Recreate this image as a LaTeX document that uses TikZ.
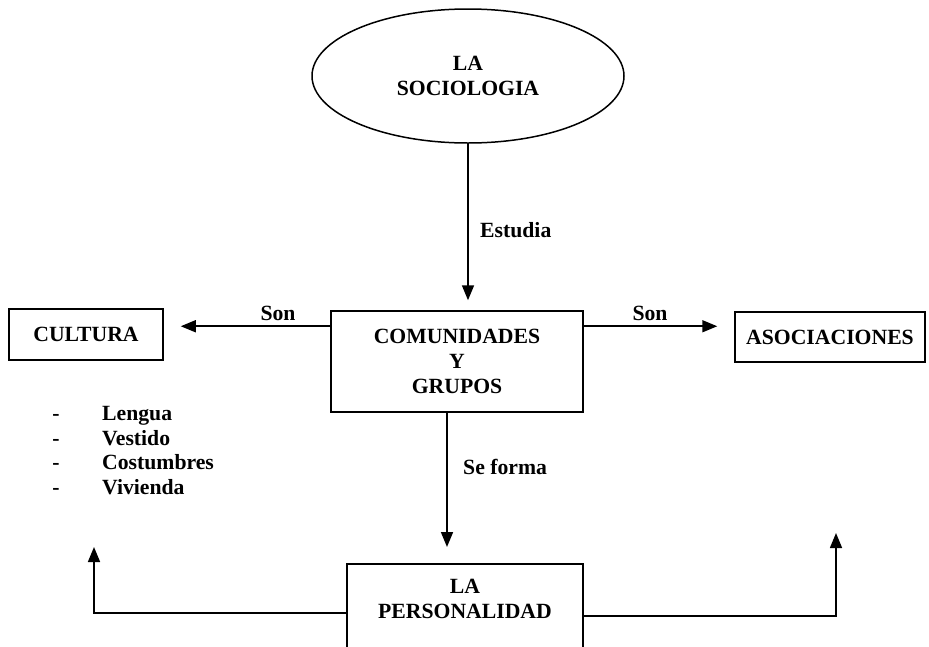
\documentclass[tikz,border=0pt]{standalone}
\usepackage{fontspec}
\setmainfont{Liberation Serif}
\usetikzlibrary{shapes.geometric,arrows.meta}
\begin{document}
\begin{tikzpicture}[x=1pt,y=-1pt,
  every node/.style={font=\fontsize{21.7}{25}\selectfont\bfseries, align=center, inner sep=0pt},
  box/.style={draw, line width=1.5pt, rectangle},
  oval/.style={draw, line width=1.5pt, ellipse},
  arr/.style={line width=1.6pt, -{Triangle[length=15pt,width=12pt]}},
  lbl/.style={anchor=base},
  lblw/.style={anchor=base west}]
\useasboundingbox (0,0) rectangle (929,646);
% main nodes
\node[oval, minimum width=312pt, minimum height=134pt] (soc) at (468,76) {LA\\SOCIOLOGIA};
\node[box, minimum width=252pt, minimum height=101pt] (com) at (457,361.5) {COMUNIDADES\\Y\\GRUPOS};
\node[box, minimum width=154pt, minimum height=51pt] (cul) at (86,334.5) {CULTURA};
\node[box, minimum width=190pt, minimum height=50pt] (aso) at (830,337) {ASOCIACIONES};
\node[box, minimum width=236pt, minimum height=120pt, anchor=north] (per) at (465,563) {};
\node[anchor=north] (pertxt) at (465,578.6) {LA\\PERSONALIDAD};
% connector labels
\node[lblw] (est) at (480,237) {Estudia};
\node[lbl] (son1) at (278,320) {Son};
\node[lbl] (son2) at (650,320) {Son};
\node[lblw] (sef) at (463,474) {Se forma};
% list
\node[lbl] (d1) at (56,420) {-};
\node[lbl] (d2) at (56,445) {-};
\node[lbl] (d3) at (56,469) {-};
\node[lbl] (d4) at (56,494) {-};
\node[lblw] (i1) at (102,420) {Lengua};
\node[lblw] (i2) at (102,445) {Vestido};
\node[lblw] (i3) at (102,469) {Costumbres};
\node[lblw] (i4) at (102,494) {Vivienda};
% connectors
\draw[arr, shorten >=10pt] (soc.south) -- (soc.south |- com.north);
\coordinate (cl) at ([yshift=-16pt]com.north west);
\coordinate (cr) at ([yshift=-16pt]com.north east);
\draw[arr, shorten >=17pt] (cl) -- (cl -| cul.east);
\draw[arr, shorten >=17pt] (cr) -- (cr -| aso.west);
\coordinate (cb) at ([xshift=-10pt]com.south);
\draw[arr, shorten >=16pt] (cb) -- (cb |- per.north);
\coordinate (pl) at ([yshift=-50pt]per.north west);
\coordinate (pr) at ([yshift=-53pt]per.north east);
\coordinate (tl) at (94,547);
\coordinate (tr) at (836,533);
\draw[arr] (pl) -| (tl);
\draw[arr] (pr) -| (tr);
\end{tikzpicture}
\end{document}
